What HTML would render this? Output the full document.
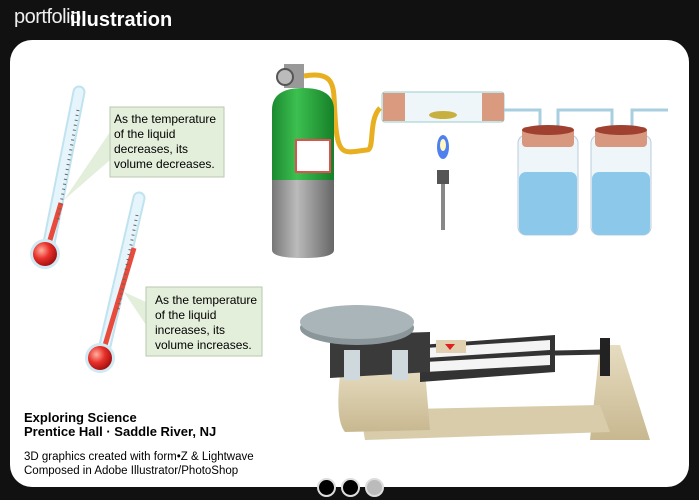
<!DOCTYPE html>
<html><head><style>
html,body{margin:0;padding:0;background:#111;}
body{width:699px;height:500px;position:relative;overflow:hidden;font-family:"Liberation Sans",sans-serif;}
.panel{position:absolute;left:10px;top:40px;width:679px;height:447px;background:#fff;border-radius:22px;}
.t{position:absolute;color:#000;}
</style></head><body>
<div class="t" style="left:14px;top:6px;color:#eee;font-size:20px;letter-spacing:-0.5px;">portfolio</div>
<div class="t" style="left:70px;top:9px;color:#fff;font-size:20px;font-weight:bold;">illustration</div>
<div class="panel"></div>
<svg width="699" height="500" style="position:absolute;left:0;top:0">
<defs>
<radialGradient id="bulb" cx="0.35" cy="0.35" r="0.7"><stop offset="0" stop-color="#ffb0a0"/><stop offset="0.5" stop-color="#e8302a"/><stop offset="1" stop-color="#a01010"/></radialGradient>
<linearGradient id="grn" x1="0" x2="1"><stop offset="0" stop-color="#1c8a30"/><stop offset="0.4" stop-color="#3cc050"/><stop offset="1" stop-color="#168028"/></linearGradient>
<linearGradient id="gry" x1="0" x2="1"><stop offset="0" stop-color="#777"/><stop offset="0.4" stop-color="#bbb"/><stop offset="1" stop-color="#666"/></linearGradient>
<linearGradient id="beige" x1="0" y1="0" x2="0" y2="1"><stop offset="0" stop-color="#e6dcc0"/><stop offset="1" stop-color="#c8b890"/></linearGradient>
</defs>
<!-- thermometer 1 -->
<g>
<line x1="79" y1="92" x2="48" y2="248" stroke="#bfe3ef" stroke-width="13" stroke-linecap="round"/>
<line x1="79" y1="92" x2="48" y2="248" stroke="#e6f5fb" stroke-width="9" stroke-linecap="round"/>
<line x1="61" y1="203" x2="47" y2="250" stroke="#e84a3c" stroke-width="5"/>
<circle cx="45" cy="254" r="15" fill="#cfeaf3"/><circle cx="45" cy="254" r="12" fill="url(#bulb)"/>
<line x1="78" y1="110" x2="58" y2="220" stroke="#666" stroke-width="3" stroke-dasharray="1 4"/>
<polygon points="110,132 110,160 64,200" fill="#e3eedb"/>
<rect x="110" y="107" width="114" height="70" fill="#e3eedb" stroke="#b8c8b0"/>
</g>
<g>
<line x1="139" y1="198" x2="104" y2="350" stroke="#bfe3ef" stroke-width="13" stroke-linecap="round"/>
<line x1="139" y1="198" x2="104" y2="350" stroke="#e6f5fb" stroke-width="9" stroke-linecap="round"/>
<line x1="134" y1="248" x2="103" y2="352" stroke="#e84a3c" stroke-width="5"/>
<circle cx="100" cy="358" r="15" fill="#cfeaf3"/><circle cx="100" cy="358" r="12" fill="url(#bulb)"/>
<line x1="137" y1="215" x2="118" y2="310" stroke="#666" stroke-width="3" stroke-dasharray="1 4"/>
<polygon points="146,302 146,325 124,292" fill="#e3eedb"/>
<rect x="146" y="287" width="116" height="69" fill="#e3eedb" stroke="#b8c8b0"/>
</g>
<!-- gas cylinder -->
<path d="M304,76 C338,70 333,90 335,115 C337,160 345,152 367,150 C375,150 368,120 380,108" fill="none" stroke="#e8b020" stroke-width="5"/>
<rect x="284" y="64" width="20" height="24" fill="#999"/>
<circle cx="285" cy="77" r="8" fill="#bbb" stroke="#555" stroke-width="2"/>
<path d="M272,110 Q272,88 303,88 Q334,88 334,110 L334,180 L272,180 Z" fill="url(#grn)"/>
<path d="M272,180 L334,180 L334,250 Q334,258 303,258 Q272,258 272,250 Z" fill="url(#gry)"/>
<rect x="296" y="140" width="34" height="32" fill="#fff" stroke="#e05050" stroke-width="2"/>
<!-- combustion tube -->
<rect x="382" y="92" width="122" height="30" fill="#eef6fa" stroke="#9cc" rx="3"/>
<rect x="383" y="93" width="22" height="28" fill="#d99a80"/><rect x="482" y="93" width="22" height="28" fill="#d99a80"/>
<ellipse cx="443" cy="115" rx="14" ry="4" fill="#c8b040"/>
<path d="M504,110 L540,110 L540,130 M558,130 L558,110 L612,110 L612,130 M632,130 L632,110 L668,110" fill="none" stroke="#a8cfe0" stroke-width="3"/>
<ellipse cx="443" cy="147" rx="6" ry="12" fill="#5080f0"/><ellipse cx="443" cy="145" rx="3" ry="6" fill="#fff8c0"/>
<rect x="437" y="170" width="12" height="14" fill="#555"/><rect x="441" y="184" width="4" height="46" fill="#888"/>
<!-- bottles -->
<g><rect x="518" y="135" width="60" height="100" rx="8" fill="#eef6fa" stroke="#bcd"/>
<rect x="519" y="172" width="58" height="63" rx="7" fill="#8cc8ea"/>
<rect x="522" y="127" width="52" height="20" rx="4" fill="#d89880"/><ellipse cx="548" cy="130" rx="26" ry="5" fill="#a04030"/></g>
<g><rect x="591" y="135" width="60" height="100" rx="8" fill="#eef6fa" stroke="#bcd"/>
<rect x="592" y="172" width="58" height="63" rx="7" fill="#8cc8ea"/>
<rect x="595" y="127" width="52" height="20" rx="4" fill="#d89880"/><ellipse cx="621" cy="130" rx="26" ry="5" fill="#a04030"/></g>
<!-- balance -->
<path d="M600,345 L620,345 L650,440 L590,440 Z" fill="url(#beige)"/>
<path d="M360,410 L600,405 L610,432 L365,440 Z" fill="#d8ccaa"/>
<path d="M340,375 Q350,365 400,368 L425,370 L430,430 L345,432 Q335,420 340,375 Z" fill="url(#beige)"/>
<polygon points="420,345 555,335 555,372 420,382" fill="#333"/>
<polygon points="425,348 550,340 550,350 425,358" fill="#f4f4f4"/>
<polygon points="425,362 550,355 550,365 425,372" fill="#f4f4f4"/>
<rect x="436" y="340" width="30" height="13" fill="#e0d0b0"/>
<polygon points="445,344 455,344 450,350" fill="#e02020"/>
<line x1="555" y1="353" x2="605" y2="352" stroke="#333" stroke-width="5"/>
<rect x="600" y="338" width="10" height="38" fill="#222"/>
<polygon points="330,335 430,332 430,372 330,378" fill="#3a3a3a"/>
<rect x="344" y="350" width="16" height="30" fill="#cfd8dc"/><rect x="392" y="350" width="16" height="30" fill="#cfd8dc"/>
<ellipse cx="357" cy="328" rx="57" ry="17" fill="#8a969a"/>
<ellipse cx="357" cy="322" rx="57" ry="17" fill="#a9b5b9"/>
</svg>
<div class="t" style="left:114px;top:112px;font-size:12px;line-height:15px;">As the temperature<br>of the liquid<br>decreases, its<br>volume decreases.</div>
<div class="t" style="left:155px;top:293px;font-size:12px;line-height:15px;">As the temperature<br>of the liquid<br>increases, its<br>volume increases.</div>
<div class="t" style="left:24px;top:411px;font-size:13px;line-height:14px;font-weight:bold;">Exploring Science<br>Prentice Hall · Saddle River, NJ</div>
<div class="t" style="left:24px;top:450px;font-size:11.5px;line-height:14px;">3D graphics created with form•Z &amp; Lightwave<br>Composed in Adobe Illustrator/PhotoShop</div>
<div style="position:absolute;left:317px;top:478px;width:15px;height:15px;border-radius:50%;background:#000;border:2px solid #ddd;"></div>
<div style="position:absolute;left:341px;top:478px;width:15px;height:15px;border-radius:50%;background:#000;border:2px solid #ddd;"></div>
<div style="position:absolute;left:365px;top:478px;width:15px;height:15px;border-radius:50%;background:#bbb;border:2px solid #ddd;"></div>
</body></html>
